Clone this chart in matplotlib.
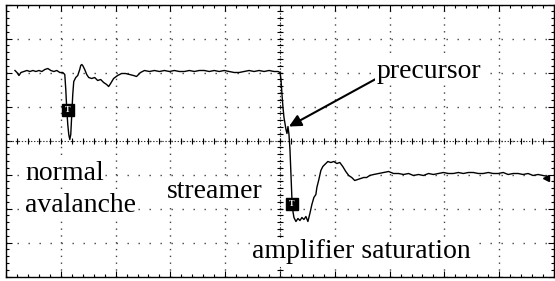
import numpy as np
import matplotlib
matplotlib.use("Agg")
import matplotlib.pyplot as plt
from matplotlib.ticker import MultipleLocator

plt.rcParams['font.family'] = ['Liberation Serif', 'DejaVu Serif']
plt.rcParams['lines.scale_dashes'] = False

# scope trace (time / amplitude in screen units,
# 55 units per horizontal division, 34 per vertical division)
t_before = [9, 11, 13, 15, 18, 21, 24, 27, 30, 33, 36, 39, 42, 45, 48, 51, 54, 57]
a_before = [70, 68, 65, 68, 69, 70, 69, 70, 69, 70, 69, 71, 72, 70, 69, 70, 68, 68]

# normal avalanche pulse and the flat part after it
t_aval = [59, 60, 61, 62, 63, 64, 65, 66, 67, 68, 70, 72, 74, 75, 76, 77, 79, 81,
          83, 86, 89, 92, 95, 98, 101, 103, 105, 108, 112, 116, 120, 124, 128, 131,
          135, 139, 144, 149, 154, 159, 164, 169, 174, 179, 184, 189, 194, 199, 204,
          209, 214, 219, 224, 229, 234, 239, 244, 249, 254, 259, 264, 269, 273]
a_aval = [66, 51, 31, 16, 6, 1, 6, 26, 46, 59, 63, 65, 71, 75, 76, 75, 71, 66,
          63, 62, 63, 60, 61, 58, 56, 54, 57, 62, 65, 67, 67, 66, 65, 64,
          68, 70, 69, 70, 69, 70, 69, 70, 69, 69, 70, 69, 70, 70, 69,
          70, 69, 70, 69, 68, 68, 69, 70, 69, 70, 69, 70, 69, 69]

# streamer: precursor, amplifier saturation, recovery
t_strm = [275, 276, 277, 278, 279, 280, 281, 282, 283, 284, 285, 286, 287, 288, 289,
          291, 293, 295, 297, 299, 301, 303,
          305, 307, 309, 311, 312, 314, 316, 318, 320,
          323, 326, 329, 332, 335, 338, 341, 344, 347, 350, 353, 356, 359, 362,
          365, 369,
          374, 379, 384, 389, 394, 399, 404, 409, 414, 419, 424, 429, 434, 439, 444,
          449, 454, 459, 464, 469, 474, 479, 484, 489, 494, 499, 504, 509, 514, 519,
          524, 529, 534, 539, 544]
a_strm = [68, 61, 46, 33, 23, 17, 11, 7, 14, 6, -9, -34, -59, -71, -77,
          -81, -78, -80, -77, -79, -76, -81,
          -73, -64, -57, -54, -47, -39, -30, -26, -24,
          -21, -22, -21, -23, -22, -26, -31, -35, -37, -40, -39, -38, -37, -37,
          -35, -34,
          -33, -32, -31, -33, -33, -34, -33, -35, -34, -35, -33, -34, -33, -32, -33,
          -33, -32, -33, -32, -32, -33, -33, -32, -33, -33, -32, -34, -33, -33, -34,
          -33, -35, -34, -35, -36]

t_trace = t_before + t_aval + t_strm
a_trace = a_before + a_aval + a_strm

# trigger markers "T" and end marker
trig_t = [62, 287]
trig_a = [31, -63]
end_t, end_a = 542, -37

fig = plt.figure(figsize=(5.55, 2.81), dpi=100)
ax = fig.add_axes([6 / 555, 4.5 / 281, 548 / 555, 272 / 281])
ax.set_xlim(0, 550)
ax.set_ylim(-136, 136)

# graticule
ax.xaxis.set_major_locator(MultipleLocator(55))
ax.xaxis.set_minor_locator(MultipleLocator(11))
ax.yaxis.set_major_locator(MultipleLocator(34))
ax.yaxis.set_minor_locator(MultipleLocator(6.8))
ax.tick_params(which='both', direction='in', top=True, right=True,
               labelbottom=False, labelleft=False, color='black', width=0.8)
ax.tick_params(which='major', length=4)
ax.tick_params(which='minor', length=2.5)
ax.xaxis.grid(True, which='major', linestyle=(0, (1, 3.9)), lw=1.0, color='#444444')
ax.yaxis.grid(True, which='major', linestyle=(0, (1, 6.92)), lw=1.0, color='#444444')
for s in ax.spines.values():
    s.set_linewidth(1.0)
    s.set_color('black')

ax.axhline(0, color='#333333', lw=0.8, ls=(0, (1, 1.2)))
ax.axvline(275, color='#333333', lw=0.8, ls=(0, (1, 1.2)))
ax.plot(np.arange(0, 551, 11), np.zeros(51), ls='none', marker='|', ms=4,
        mew=0.8, color='black')
ax.plot(np.full(41, 275), np.linspace(-136, 136, 41), ls='none', marker='_', ms=5,
        mew=0.8, color='black')

ax.plot(t_trace, a_trace, color='black', lw=1.0, zorder=5)

for tx, ay in zip(trig_t, trig_a):
    ax.plot(tx, ay, marker='s', ms=8, color='black', zorder=6)
    ax.text(tx, ay, 'T', color='white', fontsize=6, ha='center', va='center',
            fontweight='bold', zorder=7)
ax.plot(end_t, end_a, marker='<', ms=5, color='black', zorder=6)

box = dict(facecolor='white', edgecolor='none', pad=1)
fs = 20
ax.text(19, -39, 'normal', fontsize=fs, va='baseline', ha='left', bbox=box)
ax.text(19, -71, 'avalanche', fontsize=fs, va='baseline', ha='left', bbox=box)
ax.text(161, -57, 'streamer', fontsize=fs, va='baseline', ha='left', bbox=box)
ax.text(247, -118, 'amplifier saturation', fontsize=fs, va='baseline', ha='left', bbox=box)
ax.annotate('precursor', xy=(284, 14), xytext=(372, 63), fontsize=fs,
            va='baseline', ha='left', bbox=box,
            arrowprops=dict(arrowstyle='-|>', color='black', lw=1.5,
                            mutation_scale=18, shrinkA=0, shrinkB=0,
                            relpos=(0, 0.2)))

fig.savefig('out.png', dpi=100)
